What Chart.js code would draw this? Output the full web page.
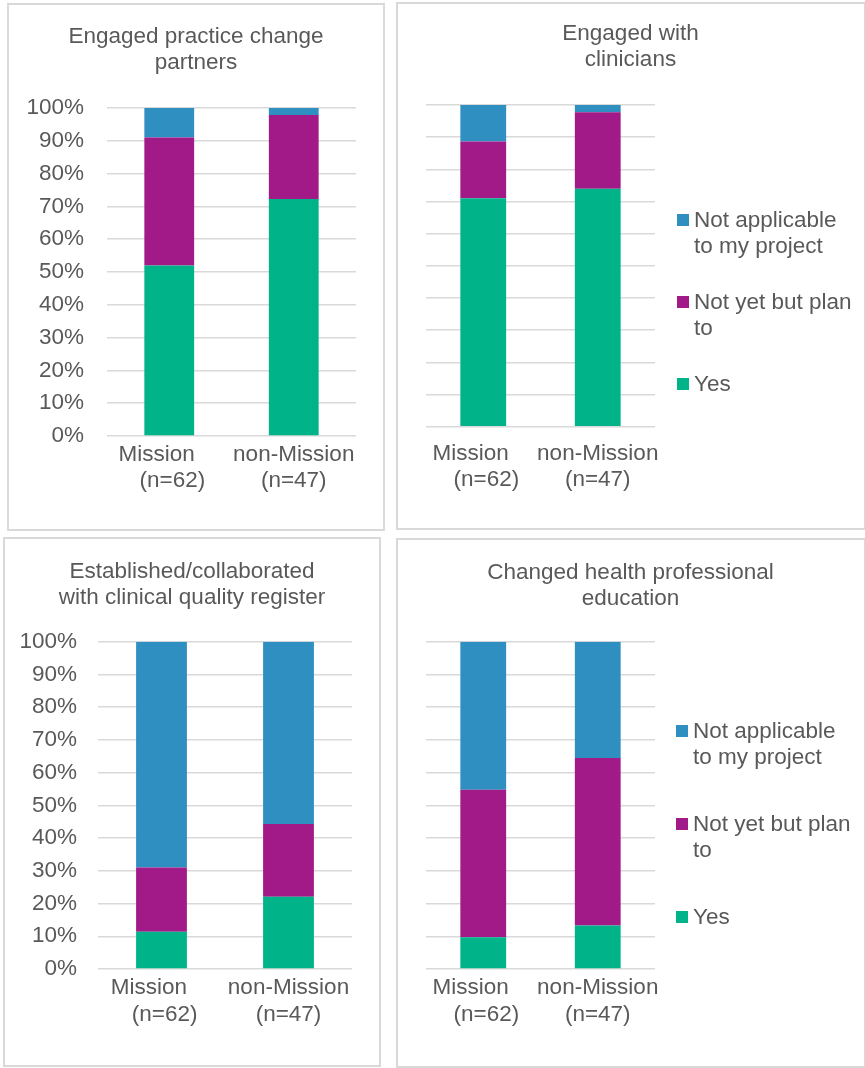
<!DOCTYPE html>
<html>
<head>
<meta charset="utf-8">
<script src="https://cdn.jsdelivr.net/npm/chart.js@4.4.1/dist/chart.umd.min.js"></script>
<style>
  body { margin: 0; background: #fff; width: 865px; height: 1068px; position: relative; overflow: hidden;
         font-family: "Liberation Sans", Arial, sans-serif; }
  .panel { position: absolute; box-sizing: border-box; border: 2px solid #d9d9d9; }
  canvas { position: absolute; }
  .legend { position: absolute; color: #595959; font-size: 22.5px; line-height: 26px; }
  .item { display: flex; align-items: flex-start; }
  .sw { width: 12px; height: 12px; margin: 7px 5px 0 0; flex: none; }
  .txt { width: 162px; }
</style>
</head>
<body>

<div class="panel" style="left:7px;top:3px;width:378px;height:528px"></div>
<div class="panel" style="left:396px;top:2px;width:470px;height:528px"></div>
<div class="panel" style="left:3px;top:537px;width:378px;height:530px"></div>
<div class="panel" style="left:396px;top:538px;width:470px;height:530px"></div>

<canvas id="c1" width="378" height="528" style="left:7px;top:3px"></canvas>
<canvas id="c2" width="469" height="528" style="left:396px;top:2px"></canvas>
<canvas id="c3" width="378" height="530" style="left:3px;top:537px"></canvas>
<canvas id="c4" width="469" height="530" style="left:396px;top:538px"></canvas>

<div class="legend" id="lg2" style="left:677px;top:207px"></div>
<div class="legend" id="lg4" style="left:676px;top:718px"></div>

<script>
// categories (Excel wrapped these onto two lines)
var categories = [['Mission    ', ' (n=62)'], ['non-Mission', '(n=47)']];
var seriesNames = ['Yes', 'Not yet but plan to', 'Not applicable to my project'];
var seriesColors = ['#00b388', '#a21a87', '#2e8fc0'];
var yTicks = [0, 10, 20, 30, 40, 50, 60, 70, 80, 90, 100];

// percentages, [Mission, non-Mission]
var practiceYes = [52, 72.3];
var practicePlan = [39, 25.6];
var practiceNA = [9, 2.1];

var clinYes = [71, 74];
var clinPlan = [17.7, 23.8];
var clinNA = [11.3, 2.2];

var registerYes = [11.4, 22.1];
var registerPlan = [19.6, 22.2];
var registerNA = [69, 55.7];

var eduYes = [9.7, 13.3];
var eduPlan = [45.1, 51.2];
var eduNA = [45.2, 35.5];

Chart.defaults.font.family = '"Liberation Sans", Arial, sans-serif';
Chart.defaults.font.size = 22.5;
Chart.defaults.color = '#595959';

function makeChart(id, title, yes, plan, na, lay) {
  var values = [yes, plan, na];
  var datasets = values.map(function (v, i) {
    return {
      label: seriesNames[i],
      data: v,
      backgroundColor: seriesColors[i],
      borderWidth: 0,
      barPercentage: 0.4,
      categoryPercentage: 1
    };
  });

  return new Chart(document.getElementById(id), {
    type: 'bar',
    data: { labels: categories, datasets: datasets },
    options: {
      responsive: false,
      animation: false,
      layout: { padding: 0 },
      plugins: {
        legend: { display: false },
        tooltip: { enabled: false },
        title: {
          display: true,
          text: title,
          font: { size: 22.5, weight: 'normal', lineHeight: 1.17 },
          color: '#595959',
          padding: { top: lay.titleTop, bottom: lay.titleBottom }
        }
      },
      scales: {
        x: {
          stacked: true,
          grid: { display: false, drawTicks: false },
          border: { display: false },
          ticks: { padding: lay.xPad, maxRotation: 0, autoSkip: false, font: { lineHeight: 1.17 } },
          afterFit: function (s) { s.height = lay.xHeight; }
        },
        y: {
          stacked: true,
          min: 0,
          max: 100,
          afterBuildTicks: function (s) { s.ticks = yTicks.map(function (v) { return { value: v }; }); },
          grid: { color: '#d9d9d9', lineWidth: 1.5, drawTicks: false },
          border: { display: false },
          ticks: {
            display: lay.yLabels,
            padding: lay.yPad,
            callback: function (v) { return v + '%'; }
          },
          afterFit: function (s) { s.width = lay.left; }
        },
        yRight: {
          axis: 'y',
          position: 'right',
          grid: { display: false, drawTicks: false },
          border: { display: false },
          ticks: { display: false },
          afterFit: function (s) { s.width = lay.right; }
        }
      }
    }
  });
}

function makeLegend(divId, chart, gap) {
  var box = document.getElementById(divId);
  var ds = chart.data.datasets.slice().reverse();
  ds.forEach(function (d, i) {
    var item = document.createElement('div');
    item.className = 'item';
    if (i > 0) item.style.marginTop = gap + 'px';
    var sw = document.createElement('div');
    sw.className = 'sw';
    sw.style.background = d.backgroundColor;
    var txt = document.createElement('div');
    txt.className = 'txt';
    txt.textContent = d.label;
    item.appendChild(sw);
    item.appendChild(txt);
    box.appendChild(item);
  });
}

makeChart('c1', ['Engaged practice change', 'partners'], practiceYes, practicePlan, practiceNA,
  { left: 100, right: 29, xHeight: 95, titleTop: 20.5, titleBottom: 31.9, xPad: 5.5, yPad: 23, yLabels: true });

var chart2 = makeChart('c2', ['Engaged with', 'clinicians'], clinYes, clinPlan, clinNA,
  { left: 30, right: 210, xHeight: 103.3, titleTop: 18.8, titleBottom: 31.6, xPad: 13.5, yPad: 0, yLabels: false });

makeChart('c3', ['Established/collaborated', 'with clinical quality register'], registerYes, registerPlan, registerNA,
  { left: 95, right: 29, xHeight: 98, titleTop: 21.5, titleBottom: 30.6, xPad: 6, yPad: 21, yLabels: true });

var chart4 = makeChart('c4', ['Changed health professional', 'education'], eduYes, eduPlan, eduNA,
  { left: 30, right: 210, xHeight: 99, titleTop: 21.8, titleBottom: 29.3, xPad: 6, yPad: 0, yLabels: false });

makeLegend('lg2', chart2, 30);
makeLegend('lg4', chart4, 41);
</script>
</body>
</html>
